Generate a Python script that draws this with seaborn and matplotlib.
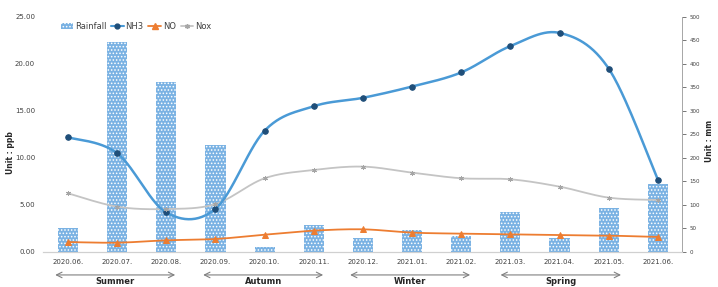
import numpy as np
import pandas as pd
import seaborn as sns
import matplotlib.pyplot as plt
from matplotlib.patches import Patch
from matplotlib.lines import Line2D

months = ['2020.06.', '2020.07.', '2020.08.', '2020.09.', '2020.10.', '2020.11.',
          '2020.12.', '2021.01.', '2021.02.', '2021.03.', '2021.04.', '2021.05.', '2021.06.']
rainfall = [52, 446, 362, 227, 11, 58, 30, 47, 34, 86, 30, 94, 145]
nh3 = [12.2, 10.5, 4.2, 4.6, 12.9, 15.5, 16.4, 17.6, 19.1, 21.9, 23.3, 19.5, 7.7]
no = [1.06, 0.99, 1.24, 1.38, 1.84, 2.27, 2.41, 2.06, 1.95, 1.88, 1.81, 1.74, 1.6]
nox = [6.24, 4.82, 4.57, 5.1, 7.84, 8.72, 9.08, 8.44, 7.84, 7.73, 6.95, 5.78, 5.53]

seasons = ['Summer', 'Autumn', 'Winter', 'Spring']
season_spans = [(-0.26, 2.18), (2.75, 5.19), (5.74, 8.18), (8.8, 11.25)]

bar_color = '#7ab2e3'


def smooth(y, n=30):
    # excel-like smoothed line (bezier through the points)
    y = np.asarray(y, dtype=float)
    x = np.arange(len(y), dtype=float)
    p = np.column_stack([x, y])
    p = np.vstack([p[0], p, p[-1]])
    t = np.linspace(0, 1, n)[:, None]
    out = []
    for i in range(1, len(p) - 2):
        p0, p1 = p[i], p[i + 1]
        c1 = p0 + (p[i + 1] - p[i - 1]) / 6
        c2 = p1 - (p[i + 2] - p[i]) / 6
        seg = ((1 - t) ** 3) * p0 + 3 * ((1 - t) ** 2) * t * c1 + 3 * (1 - t) * t ** 2 * c2 + t ** 3 * p1
        out.append(seg if i == 1 else seg[1:])
    out = np.vstack(out)
    return out[:, 0], out[:, 1]


sns.set_style('white')
plt.rcParams['font.family'] = ['DejaVu Sans']
plt.rcParams['hatch.linewidth'] = 0.7

fig = plt.figure(figsize=(7.18, 2.87), dpi=100)
ax = fig.add_axes([0.0605, 0.122, 0.89, 0.819])

df = pd.DataFrame({'month': months, 'rainfall': rainfall})
sns.barplot(data=df, x='month', y='rainfall', ax=ax, color=bar_color, width=0.41,
            saturation=1, edgecolor='white', linewidth=0, hatch='.....')
for b in ax.patches:
    b.set_facecolor(bar_color)
    b.set_edgecolor('white')
ax.set_ylim(0, 500)
ax.set_ylabel('')
ax.set_xlabel('')
ax.set_xlim(-0.5, 12.5)

ax2 = ax.twinx()
series = [('NH3', nh3, '#4a9ad6', '#1f4e79', 'o', 4),
          ('NO', no, '#ed7d31', '#ed7d31', '^', 4.5),
          ('Nox', nox, '#c4c4c4', '#a6a6a6', (6, 2, 0), 3.5)]
for name, vals, lc, mc, mk, ms in series:
    sx, sy = smooth(vals)
    sns.lineplot(x=sx, y=sy, ax=ax2, sort=False, color=lc,
                 linewidth=1.8 if name == 'NH3' else 1.3, zorder=3 if name == 'NH3' else 2)
    ax2.plot(range(len(vals)), vals, linestyle='none', marker=mk, markersize=ms,
             color=mc, markeredgecolor=mc, markeredgewidth=0.7, zorder=4)
ax2.set_ylim(0, 25)
ax2.set_yticks(np.arange(0, 26, 5))
ax2.set_yticklabels([f'{v:.2f}' for v in np.arange(0, 26, 5)])
ax2.set_xlim(-0.5, 12.5)

# rainfall scale on the right, concentrations on the left
ax.yaxis.tick_right()
ax.set_yticks(range(0, 501, 50))
ax.tick_params(axis='y', labelsize=4, colors='#404040', length=3, width=0.5, direction='out', pad=2,
               right=True, left=False, labelright=True, labelleft=False)
ax.tick_params(axis='x', labelsize=5, colors='#404040', length=0, pad=5)
ax2.yaxis.tick_left()
ax2.tick_params(axis='y', labelsize=5, colors='#404040', length=0, pad=6,
                left=False, right=False, labelleft=True, labelright=False)

for a in (ax, ax2):
    for s in ['top', 'left']:
        a.spines[s].set_visible(False)
    a.spines['right'].set_color('#a6a6a6')
    a.spines['right'].set_linewidth(0.6)
    a.spines['bottom'].set_color('#d0d0d0')
    a.spines['bottom'].set_linewidth(0.8)

fig.text(0.009, 0.47, 'Unit : ppb', rotation=90, fontsize=5.5, fontweight='bold', va='center', ha='left')
fig.text(0.995, 0.51, 'Unit : mm', rotation=90, fontsize=5.5, fontweight='bold', va='center', ha='right')

for name, (x0, x1) in zip(seasons, season_spans):
    ax.annotate('', xy=(x0, 0.042), xytext=(x1, 0.042),
                xycoords=('data', 'figure fraction'), textcoords=('data', 'figure fraction'),
                arrowprops=dict(arrowstyle='<->', color='#808080', lw=0.8,
                                mutation_scale=10, shrinkA=0, shrinkB=0),
                annotation_clip=False)
    ax.annotate(name, xy=((x0 + x1) / 2, 0.018), xycoords=('data', 'figure fraction'),
                ha='center', va='center', fontsize=6, fontweight='bold', color='#262626',
                annotation_clip=False)

handles = [Patch(facecolor=bar_color, edgecolor='white', hatch='.....', linewidth=0),
           Line2D([], [], color='#4a9ad6', marker='o', markerfacecolor='#1f4e79',
                  markeredgecolor='#1f4e79', markersize=3.5, lw=1.5),
           Line2D([], [], color='#ed7d31', marker='^', markersize=4, lw=1.3),
           Line2D([], [], color='#c4c4c4', marker=(6, 2, 0), markeredgecolor='#a6a6a6',
                  markersize=3.5, lw=1.3)]
ax2.legend(handles, ['Rainfall', 'NH3', 'NO', 'Nox'], loc='upper left',
           bbox_to_anchor=(0.015, 1.01), ncol=4, frameon=False, fontsize=6,
           handlelength=1.5, handletextpad=0.2, columnspacing=0.6,
           labelcolor='#404040')

fig.savefig('out.png', dpi=100)
